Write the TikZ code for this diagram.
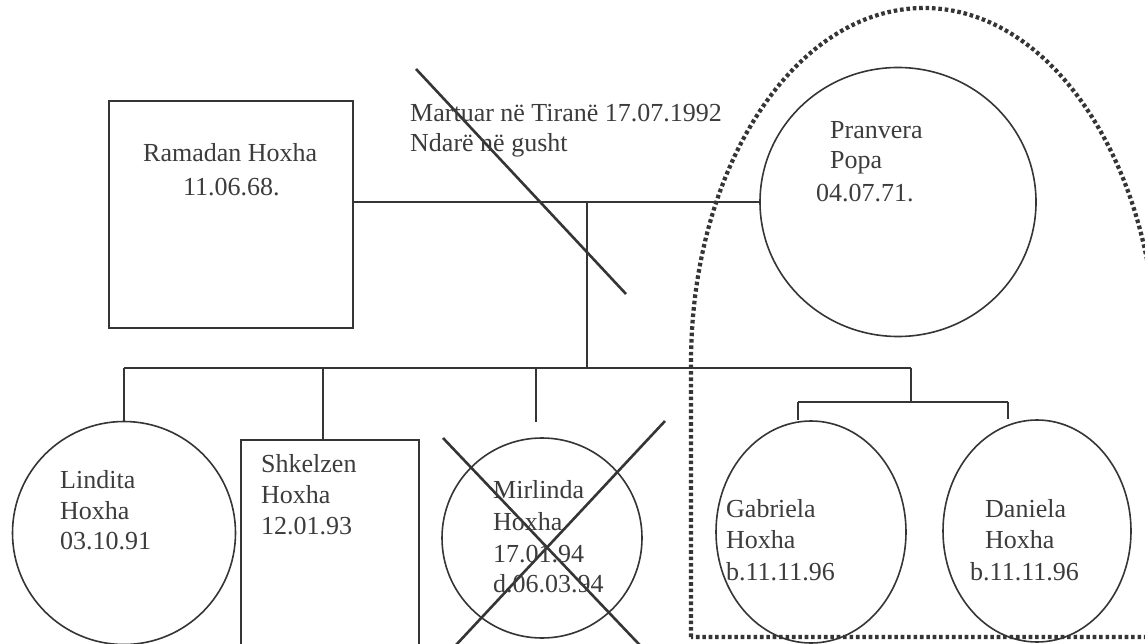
\documentclass[tikz,border=0pt]{standalone}
\usepackage{fontspec}
\setmainfont{Liberation Serif}
\usetikzlibrary{shapes.geometric}
\definecolor{ink}{HTML}{353535}
\definecolor{txt}{HTML}{3C3C3C}
\tikzset{
  lbl/.style={font=\fontsize{26}{30}\selectfont, text=txt, inner sep=0pt, anchor=base west},
  person/.style={draw=ink, line width=1.6pt, inner sep=0pt, outer sep=0pt},
  conn/.style={draw=ink, line width=1.8pt},
  strike/.style={draw=ink, line width=2.6pt},
  dotbound/.style={draw=ink, line width=4.2pt, dash pattern=on 3.6pt off 2.8pt}
}
\begin{document}
\begin{tikzpicture}[x=1pt, y=-1pt]
\useasboundingbox (0,0) rectangle (1145,644);
\clip (0,0) rectangle (1145,644);
\fill[white] (0,0) rectangle (1145,644);

% dotted boundary
\draw[dotbound] (691,637) -- (691,363)
  arc[start angle=180, end angle=360, x radius=233, y radius=355] -- (1157,637) -- cycle;

% persons
\node[person, rectangle, minimum width=244pt, minimum height=227pt] (ram) at (231,214.5) {};
\node[person, ellipse, minimum width=276pt, minimum height=269pt] (pran) at (898,202) {};
\node[person, circle, minimum size=223pt] (lin) at (124,533) {};
\node[person, rectangle, minimum width=178pt, minimum height=300pt, anchor=north west] (shk) at (241,440) {};
\node[person, circle, minimum size=200pt] (mir) at (542,538) {};
\node[person, ellipse, minimum width=190pt, minimum height=222pt] (gab) at (811,532) {};
\node[person, ellipse, minimum width=188pt, minimum height=222pt] (dan) at (1037,531) {};

% junction coordinates
\coordinate (m) at (587,202);
\coordinate (sib) at (587,368);
\coordinate (sibL) at (124,368);
\coordinate (shkD) at (323,368);
\coordinate (shkT) at (323,440);
\coordinate (mirD) at (536,368);
\coordinate (mirT) at (536,422);
\coordinate (twD) at (911,368);
\coordinate (twJ) at (911,402);
\coordinate (gabJ) at (798,402);
\coordinate (gabT) at (798,420);
\coordinate (danJ) at (1008,402);
\coordinate (danT) at (1008,419);

% connectors
\draw[conn] (ram.east |- m) -- (pran.west);
\draw[conn] (m) -- (sib);
\draw[conn] (sibL) -- (twD);
\draw[conn] (sibL) -- (lin.north);
\draw[conn] (shkD) -- (shkT);
\draw[conn] (mirD) -- (mirT);
\draw[conn] (twD) -- (twJ);
\draw[conn] (gabJ) -- (danJ);
\draw[conn] (gabJ) -- (gabT);
\draw[conn] (danJ) -- (danT);

% strike lines
\coordinate (s1) at (416,69);
\coordinate (s2) at (626,294);
\draw[strike] (s1) -- (s2);
\coordinate (x1a) at (443,438);
\coordinate (x1b) at (654,660);
\coordinate (x2a) at (665,421);
\coordinate (x2b) at (442,660);
\draw[strike] (x1a) -- (x1b);
\draw[strike] (x2a) -- (x2b);

% labels
\node[lbl] (t1) at (143,162) {Ramadan Hoxha};
\node[lbl] (t2) at (183,196) {11.06.68.};
\node[lbl] (t3) at (410,122) {Martuar në Tiranë 17.07.1992};
\node[lbl] (t4) at (410,152) {Ndarë në gusht};
\node[lbl] (t5) at (830,139) {Pranvera};
\node[lbl] (t6) at (830,169) {Popa};
\node[lbl] (t7) at (816,202) {04.07.71.};
\node[lbl] (t8) at (60,488) {Lindita};
\node[lbl] (t9) at (60,519) {Hoxha};
\node[lbl] (t10) at (60,549) {03.10.91};
\node[lbl] (t11) at (261,472) {Shkelzen};
\node[lbl] (t12) at (261,503) {Hoxha};
\node[lbl] (t13) at (261,534) {12.01.93};
\node[lbl] (t14) at (493,498) {Mirlinda};
\node[lbl] (t15) at (493,530) {Hoxha};
\node[lbl] (t16) at (493,562) {17.01.94};
\node[lbl] (t17) at (493,592) {d.06.03.94};
\node[lbl] (t18) at (726,517) {Gabriela};
\node[lbl] (t19) at (726,548) {Hoxha};
\node[lbl] (t20) at (726,580) {b.11.11.96};
\node[lbl] (t21) at (985,517) {Daniela};
\node[lbl] (t22) at (985,548) {Hoxha};
\node[lbl] (t23) at (970,580) {b.11.11.96};
\end{tikzpicture}
\end{document}
